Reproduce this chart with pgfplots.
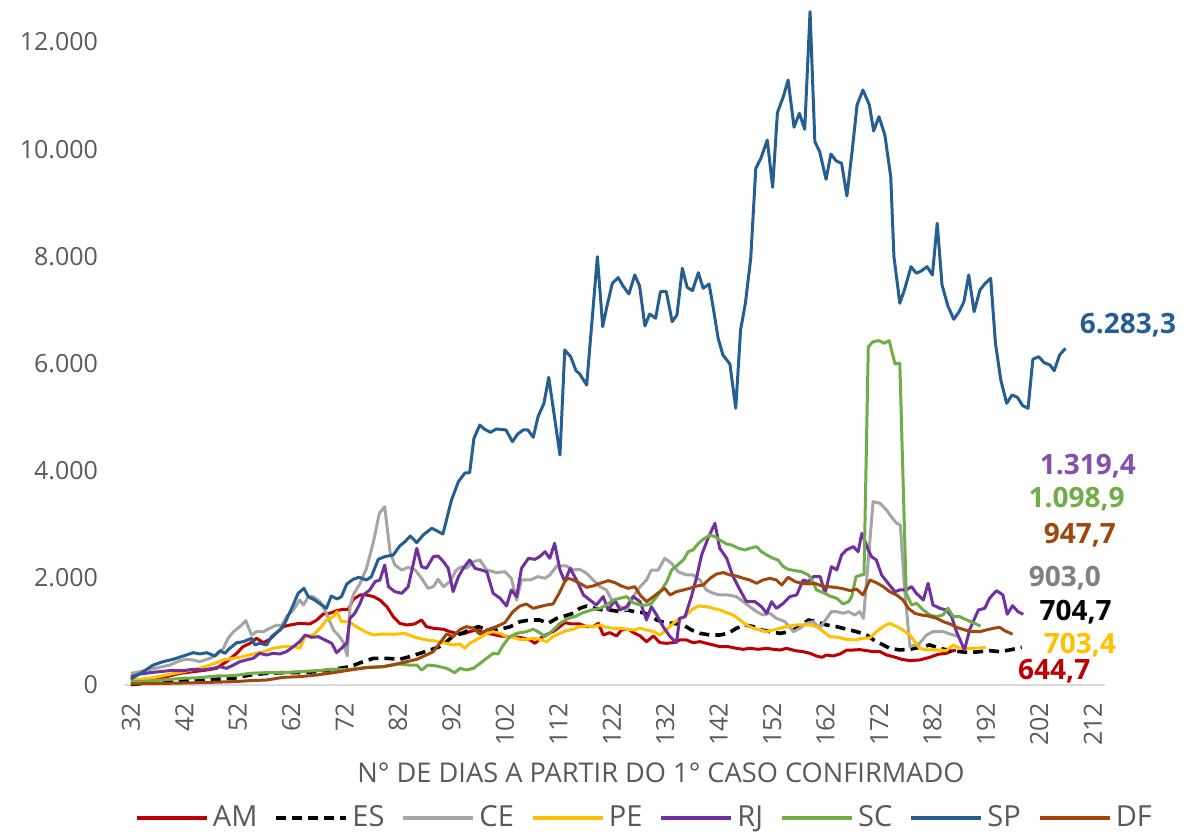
\documentclass[border=0pt]{standalone}
\usepackage{fontspec}
\setmainfont{Open Sans}
\usepackage{pgfplots}
\pgfplotsset{compat=1.18}
\definecolor{cAM}{HTML}{C00000}
\definecolor{cES}{HTML}{000000}
\definecolor{cCE}{HTML}{A5A5A5}
\definecolor{cPE}{HTML}{FFC000}
\definecolor{cRJ}{HTML}{7030A0}
\definecolor{cSC}{HTML}{70AD47}
\definecolor{cSP}{HTML}{255E91}
\definecolor{cDF}{HTML}{9E480E}
\definecolor{tickgray}{HTML}{595959}
\definecolor{axgray}{HTML}{D9D9D9}
\begin{document}
\begin{tikzpicture}
\path[use as bounding box] (-62.5pt,-74.5pt) rectangle (539.5pt,342.5pt);
\begin{axis}[
  scale only axis, width=490pt, height=340.25pt,
  xmin=30.9, xmax=214.3, ymin=0, ymax=12700,
  axis lines*=left,
  y axis line style={draw=none},
  x axis line style={draw=axgray, line width=1pt},
  tick style={draw=none}, major tick length=0pt,
  xtick={32,42,...,212},
  ytick={0,2000,...,12000},
  scaled y ticks=false,
  xticklabel style={yshift=-5.5pt, rotate=90, anchor=east, text=tickgray, font=\fontsize{12.5}{13}\selectfont},
  yticklabel style={xshift=-10pt, text=tickgray, font=\fontsize{12.5}{13}\selectfont},
  /pgf/number format/.cd, 1000 sep={.}, assume math mode=true,
  /pgfplots/.cd,
  clip=false,
  every axis plot/.append style={line width=1.5pt, line join=round},
  legend columns=8,
  legend style={draw=none, at={(0.531,-0.195)}, anchor=center, font=\fontsize{14.5}{16}\selectfont, text=tickgray,
    /tikz/every even column/.append style={column sep=6.5pt}},
  legend image code/.code={\draw[#1, line width=2pt] (0pt,0pt) -- (35pt,0pt);},
]
% AM
\addplot[cAM] table {
32 100
33.7 93
36.2 93
38.7 156
41.2 218
43.7 249
46.2 280
48.0 311
49.9 436
51.8 591
53.0 716
54.3 778
55.5 871
56.8 790
58.0 852
59.3 977
60.5 1089
61.8 1120
63.6 1151
65.5 1139
66.8 1213
68.0 1325
69.2 1338
70.5 1387
71.7 1412
72.7 1412
73.6 1599
74.9 1680
76.1 1680
77.4 1649
78.6 1586
79.9 1462
81.1 1275
82.3 1151
83.6 1120
85.1 1139
86.4 1213
87.3 1089
88.6 1058
90.5 1039
91.7 996
92.9 964
94.2 952
95.4 996
96.7 1027
97.9 980
99.5 950
101.1 915
102.9 902
104.8 890
106.7 840
107.6 778
109.2 915
111.0 996
112.3 1089
113.2 1164
114.5 1139
116.0 1139
117.3 1089
118.5 1089
119.5 1151
120.4 933
121.6 977
122.9 915
123.8 1027
125.1 1039
126.3 964
127.3 915
128.5 809
129.8 915
131.0 790
132.2 778
133.5 790
134.7 840
136.0 840
137.2 790
138.5 809
139.7 778
141.0 747
142.2 716
143.8 716
145.3 685
146.6 666
147.8 685
149.4 666
151.0 685
152.2 666
153.5 653
154.7 685
156.3 641
157.8 622
159.1 591
160.3 541
161.3 517
162.2 560
163.4 541
164.7 579
166.0 653
167.2 653
168.4 660
169.7 641
170.9 622
172.2 622
173.4 560
174.7 529
176.2 480
177.8 455
179.6 467
181.5 517
183.1 573
184.6 592
185.9 641
186.4 645
};
\addlegendentry{AM}
% ES
\addplot[cES, line width=1.8pt, dash pattern=on 5pt off 3pt] table {
32 10
38.7 62
44.9 93
51.2 125
54.3 187
57.4 218
60.5 230
63.6 230
66.8 249
69.9 292
73.0 342
75.5 436
77.4 498
79.9 498
82.3 479
84.2 529
86.1 591
88.0 653
89.8 716
91.1 809
92.3 915
93.6 952
95.4 1027
97.0 1089
97.9 1058
99.2 996
101.1 1039
103.0 1089
104.8 1182
106.7 1213
108.5 1213
110.1 1151
111.7 1244
113.2 1288
114.8 1338
116.0 1431
117.3 1474
118.8 1431
120.4 1400
121.6 1400
123.5 1369
124.8 1400
126.3 1369
127.9 1350
129.1 1306
130.4 1213
131.9 1164
133.5 1151
135.4 1120
136.9 1027
138.5 964
140.4 933
142.2 933
143.8 964
145.3 1058
146.9 1120
148.5 1089
150.0 1027
151.6 996
153.5 964
155.3 996
157.2 1089
158.8 1213
160.3 1182
162.2 1120
164.1 1089
166.0 1039
167.8 996
169.7 933
171.0 840
172.2 778
174.0 685
175.9 654
177.8 666
179.6 704
181.5 747
183.4 685
185.3 641
187.1 623
189.0 604
190.9 623
192.7 641
194.6 623
196.5 654
198.7 705
};
\addlegendentry{ES}
% CE
\addplot[cCE] table {
32 218
33.7 249
35.6 292
37.4 330
39.3 373
41.2 454
42.4 479
43.7 467
44.9 436
46.8 498
48.0 560
49.3 684
50.2 871
51.2 996
52.4 1090
53.5 1201
54.6 933
55.5 996
56.8 996
58.0 1058
59.3 1120
60.2 1101
61.1 1275
62.4 1400
63.6 1586
64.3 1493
65.2 1648
66.1 1648
67.4 1555
68.6 1338
69.9 1027
70.8 933
71.7 809
72.5 541
73.0 1462
73.6 1680
74.9 1897
76.1 2177
77.4 2675
78.5 3204
79.5 3328
80.5 2488
81.4 2240
82.7 2146
83.9 2196
85.2 2146
86.4 1991
87.6 1804
88.6 1835
89.5 1972
90.5 1835
91.7 1929
92.9 2146
93.9 2208
94.8 2177
96.1 2302
97.3 2333
98.6 2146
100.4 2097
102.0 2115
103.2 1991
104.2 1586
105.1 1960
106.7 1960
108.2 2022
109.5 1991
110.4 2053
111.7 2221
113.5 2221
114.8 2146
116.0 2159
117.3 2084
118.5 1960
119.8 1835
121.0 1773
122.0 1586
123.5 1462
124.8 1400
126.0 1649
127.3 1835
128.5 1960
129.4 2146
130.7 2146
131.9 2364
133.2 2271
134.4 2115
136.0 2053
137.2 2053
138.5 1960
139.7 1773
141.0 1711
142.2 1680
143.8 1680
145.3 1649
146.6 1555
147.8 1462
149.1 1369
150.3 1306
151.6 1338
152.8 1244
154.4 1182
156.0 996
157.2 1058
158.4 1151
159.7 1182
160.9 1058
162.2 1244
163.1 1369
164.1 1369
165.3 1338
166.3 1369
167.5 1306
168.4 1369
169.1 1244
170.9 3422
172.2 3391
173.4 3267
174.3 3142
175.3 3018
176.0 2987
176.8 1774
177.8 716
178.7 747
179.6 778
180.9 933
182.1 996
184.0 996
185.9 933
187.0 903
};
\addlegendentry{CE}
% PE
\addplot[cPE] table {
32 93
35.6 125
38.7 187
41.8 249
44.9 311
47.4 392
49.3 467
51.2 498
53.0 529
54.9 579
56.8 622
58.6 685
60.5 716
62.4 716
63.6 685
64.6 902
66.1 933
67.4 1058
68.6 1213
69.9 1275
70.6 1369
71.4 1182
72.7 1182
74.2 1089
75.8 996
77.4 933
79.2 952
81.1 946
83.3 964
84.8 902
86.7 852
88.6 827
90.5 790
92.3 747
93.6 765
94.5 685
95.4 778
97.3 880
98.6 964
99.8 996
101.1 964
102.3 902
103.5 890
104.8 852
106.0 852
107.3 871
108.5 852
109.8 809
111.0 902
112.3 964
113.5 1014
114.8 1039
116.0 1089
117.3 1101
118.5 1089
119.8 1120
121.0 1076
122.3 1058
123.5 1058
124.8 1039
126.0 1027
127.3 1058
128.5 1027
129.8 996
131.0 933
132.2 1027
133.5 1151
134.7 1244
135.7 1275
136.9 1400
138.2 1474
139.7 1462
141.0 1431
142.2 1400
143.5 1350
144.7 1306
146.0 1213
147.2 1120
148.5 1058
149.7 1027
151.0 996
152.2 1027
153.5 1058
154.7 1089
156.3 1120
157.8 1120
159.1 1120
160.3 1089
161.6 996
162.8 902
164.4 890
165.9 852
167.5 840
169.0 872
170.3 880
171.5 996
172.8 1090
174.0 1152
175.3 1090
176.5 1027
177.8 934
178.7 809
179.6 685
180.9 654
182.8 654
184.6 641
185.9 747
187.1 685
188.4 685
189.9 685
192.0 703
};
\addlegendentry{PE}
% RJ
\addplot[cRJ] table {
32 156
33.7 205
35.6 230
37.4 249
39.3 268
41.8 268
43.7 292
45.5 280
47.4 311
48.7 342
49.9 311
51.2 373
52.4 436
53.6 467
54.9 498
56.1 591
57.4 560
58.6 591
59.9 579
61.1 622
62.4 716
63.6 809
64.6 933
65.8 890
67.1 902
68.3 840
69.6 778
70.5 604
71.4 685
72.4 778
73.0 1244
73.9 1338
74.9 1524
75.5 1680
76.7 1773
77.7 1929
78.6 1960
79.5 2240
80.2 1835
81.4 1742
82.7 1711
83.9 1835
85.5 2551
86.4 2208
87.3 2177
88.6 2395
89.5 2408
90.5 2302
91.4 2177
92.3 1742
93.3 2022
94.2 2177
95.4 2333
96.4 2177
97.6 2146
98.6 2115
99.8 1711
101.1 1618
102.3 1474
103.2 1773
104.2 1649
105.1 2177
106.4 2364
107.6 2345
108.5 2395
109.5 2488
110.4 2364
111.3 2644
112.3 2146
113.2 1929
114.2 2177
115.4 1960
116.7 1680
117.9 1586
119.1 1493
120.4 1649
121.3 1400
122.6 1586
123.5 1400
124.8 1462
126.0 1649
127.3 1555
128.5 1213
129.4 1462
130.4 1306
131.6 1089
132.9 902
134.1 790
134.7 1244
135.7 1275
136.9 1649
137.9 2022
138.8 2426
140.0 2737
141.3 3017
142.2 2551
143.5 2364
144.7 2022
146.0 1773
147.2 1555
148.8 1555
150.0 1462
151.0 1338
151.9 1555
152.8 1431
154.1 1524
155.3 1649
156.6 1680
157.8 1960
158.8 1929
159.7 2022
161.0 2022
161.9 1711
163.1 2208
164.1 2146
165.0 2426
165.9 2520
167.2 2582
168.1 2488
168.8 2831
170.0 2520
170.6 2396
171.5 2333
172.5 2053
173.7 1898
175.0 1742
175.9 1774
177.1 1774
178.1 1836
179.0 1711
180.3 1587
181.2 1898
182.1 1494
183.4 1431
184.6 1400
185.6 1276
186.5 996
188.0 654
189.0 1040
190.6 1400
191.8 1431
192.7 1620
194.0 1761
195.2 1680
196.0 1320
197.0 1480
198.0 1369
199.0 1319
};
\addlegendentry{RJ}
% SC
\addplot[cSC] table {
32 60
35.6 75
41.8 125
44.9 137
48.0 168
51.2 174
54.3 218
57.4 230
60.5 230
63.6 249
66.8 268
69.9 292
73.0 292
76.1 330
79.2 342
81.1 373
82.3 392
83.9 373
85.5 373
86.4 280
87.6 373
89.2 355
91.1 311
92.6 230
93.6 311
94.8 280
96.1 311
97.3 400
98.6 500
99.8 590
100.7 579
101.7 747
102.9 902
104.2 964
106.0 996
107.3 1039
108.2 996
109.5 902
110.7 996
112.3 1151
113.8 1244
115.1 1275
116.6 1350
118.2 1400
119.8 1431
121.0 1493
122.3 1586
123.5 1618
124.8 1649
126.0 1537
127.3 1493
128.5 1493
129.4 1524
130.4 1649
131.3 1773
132.3 1929
133.2 2146
134.1 2221
135.4 2333
136.3 2489
137.2 2520
138.2 2644
139.1 2719
140.4 2800
141.3 2768
142.2 2706
143.5 2632
144.4 2613
145.7 2551
146.9 2520
147.8 2551
149.1 2582
150.0 2489
151.0 2426
152.2 2364
153.1 2333
154.1 2208
155.0 2159
156.3 2134
157.5 2115
158.8 2053
159.4 1972
160.3 1773
161.6 1723
162.8 1661
164.1 1618
165.3 1512
166.3 1555
166.9 1649
167.7 2022
168.7 2053
169.2 2060
170.0 6314
170.9 6407
172.0 6426
173.0 6377
173.9 6426
175.0 5991
175.9 6004
177.1 1711
178.1 1494
179.0 1525
180.3 1400
181.5 1307
182.8 1276
184.0 1307
184.9 1431
185.9 1276
187.1 1276
188.4 1214
189.6 1164
191.0 1099
};
\addlegendentry{SC}
% SP
\addplot[cSP] table {
32 110
34.3 249
36.2 373
38.0 435
39.9 479
41.8 541
43.7 603
44.9 579
46.2 603
47.7 541
48.7 640
49.6 592
50.5 685
51.8 789
53.0 808
54.6 872
55.2 747
56.1 778
57.4 747
58.3 901
59.9 1027
60.8 1151
62.1 1431
63.3 1711
64.4 1805
65.2 1648
66.4 1586
68.6 1431
69.5 1661
70.6 1605
71.4 1648
72.4 1885
73.6 1973
74.7 2010
76.1 1960
77.0 2021
78.3 2346
79.5 2395
81.1 2426
82.3 2594
83.3 2675
84.3 2781
85.5 2656
86.7 2800
88.3 2925
89.2 2880
90.4 2818
92.0 3453
93.3 3795
94.5 3956
95.4 3962
96.2 4604
97.3 4852
98.2 4772
99.3 4716
100.4 4778
102.2 4759
103.4 4541
104.4 4685
105.4 4759
106.3 4759
107.3 4623
108.2 5008
109.3 5257
110.2 5742
112.3 4293
113.2 6252
114.3 6128
115.3 5866
116.0 5804
117.3 5599
119.3 7994
120.3 6688
121.1 7074
122.1 7497
123.2 7602
124.1 7447
125.2 7298
126.3 7652
127.2 7447
128.2 6700
129.1 6924
130.2 6844
131.1 7340
132.2 7340
133.3 6780
134.2 6906
135.2 7777
136.1 7422
137.1 7360
138.2 7695
139.1 7404
140.2 7484
141.0 7030
141.9 6470
142.8 6159
144.1 5991
145.2 5164
146.1 6626
147.0 7124
148.0 7964
148.95 9643
149.9 9830
151.1 10171
152.1 9288
153.0 10682
154.1 10980
155.0 11291
156.1 10409
157.1 10670
158.1 10371
159.1 12566
160.0 10140
160.9 9953
162.1 9438
163.0 9910
164.0 9780
165.0 9737
166.0 9126
167.0 9985
167.9 10825
169.0 11105
170.2 10825
171.0 10340
172.0 10607
173.1 10265
174.2 9487
174.8 7994
175.9 7124
176.8 7385
178.0 7807
179.0 7684
180.0 7733
181.0 7807
182.0 7652
182.9 8617
183.8 7465
184.9 7074
186.0 6825
187.0 6967
187.9 7154
188.8 7652
189.8 6967
190.9 7372
191.9 7497
192.9 7590
193.8 6377
194.8 5692
195.9 5257
196.9 5412
197.9 5370
198.9 5213
199.9 5164
200.8 6079
201.9 6128
202.9 6016
204.0 5972
204.8 5866
205.8 6159
206.9 6283
};
\addlegendentry{SP}
% DF
\addplot[cDF] table {
32 20
38.7 31
44.9 44
51.2 62
54.3 81
57.4 93
60.5 143
63.6 156
66.8 187
69.9 230
73.0 280
76.1 324
79.2 342
82.3 404
85.5 479
87.3 560
88.6 622
89.8 778
91.1 952
92.3 902
93.6 1039
94.8 1089
96.1 1058
97.3 950
98.6 1027
100.4 1089
102.0 1164
103.5 1369
104.8 1474
106.0 1512
107.3 1431
108.5 1462
109.8 1493
111.0 1512
112.3 1742
113.2 1929
113.8 1991
114.8 1960
116.0 1898
117.3 1823
118.5 1848
119.8 1898
121.3 1947
122.6 1910
123.8 1848
125.1 1804
126.3 1835
127.3 1680
128.5 1555
129.8 1649
131.0 1742
131.9 1804
132.9 1680
134.1 1742
135.4 1773
136.6 1804
137.9 1848
139.1 1866
140.4 1991
141.6 2072
142.9 2097
144.1 2053
145.3 2034
146.6 1991
147.8 1960
149.1 1898
150.3 1960
151.6 1991
152.8 1960
153.8 1866
155.0 2010
156.3 1929
157.5 1898
158.8 1885
160.0 1898
161.3 1848
162.5 1835
163.7 1823
165.0 1804
166.6 1761
167.8 1790
169.0 1680
170.3 1960
171.5 1910
172.8 1836
174.0 1742
175.3 1680
176.5 1587
177.5 1431
178.7 1338
179.9 1307
181.2 1288
182.8 1245
184.0 1183
185.3 1139
186.5 1077
188.1 1027
189.3 996
190.9 996
192.1 1027
193.4 1058
194.6 1077
195.5 1015
197.0 948
};
\addlegendentry{DF}
% data labels
\begin{scope}[every node/.style={font=\fontsize{14}{16}\selectfont\bfseries, anchor=center, inner sep=0pt}]
\node[text=cSP] at (axis cs:218.6,6719) {6.283,3};
\node[text=cRJ!85!white] at (axis cs:211.1,4088) {1.319,4};
\node[text=cSC] at (axis cs:209.0,3461) {1.098,9};
\node[text=cDF] at (axis cs:209.6,2800) {947,7};
\node[text=black!50] at (axis cs:206.8,1997) {903,0};
\node[text=black] at (axis cs:208.8,1362) {704,7};
\node[text=cPE] at (axis cs:209.6,745) {703,4};
\node[text=cAM] at (axis cs:204.8,265) {644,7};
\end{scope}
\end{axis}
\node[text=tickgray, font=\fontsize{13.6}{15}\selectfont, anchor=center] at (268pt,-44pt) {N° DE DIAS A PARTIR DO 1° CASO CONFIRMADO};
\end{tikzpicture}
\end{document}
